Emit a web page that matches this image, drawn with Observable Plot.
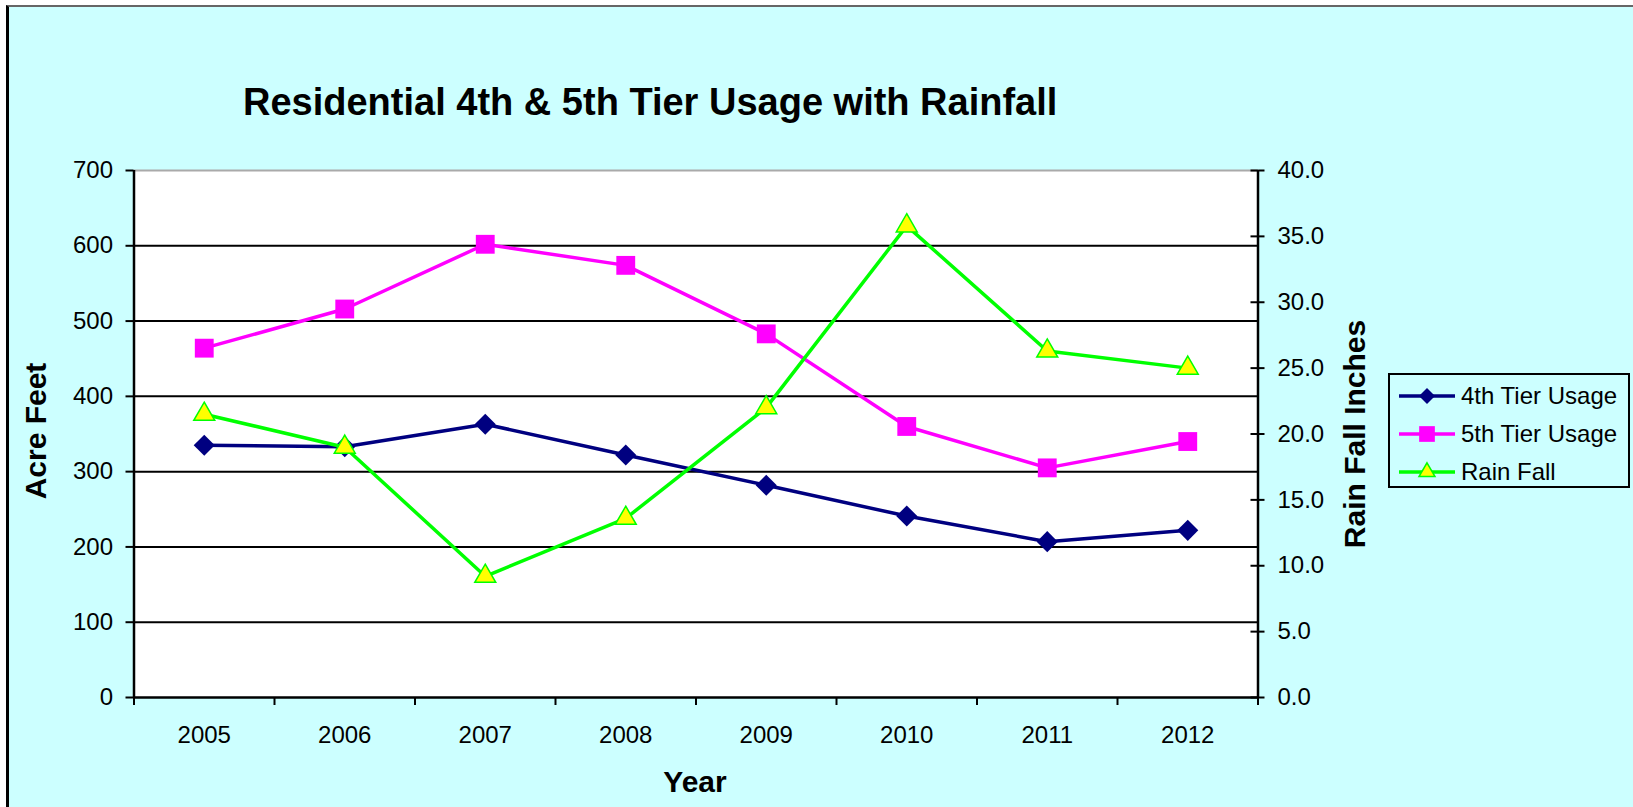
<!DOCTYPE html>
<html>
<head>
<meta charset="utf-8">
<script src="https://cdn.jsdelivr.net/npm/d3@7"></script>
<script src="https://cdn.jsdelivr.net/npm/@observablehq/plot@0.6"></script>
<style>
  html, body { margin: 0; padding: 0; background: #fff; overflow: hidden; width: 1633px; height: 807px; }
  body { position: relative; font-family: "Liberation Sans", Arial, sans-serif; }
  #panel { position: absolute; left: 6px; top: 5px; width: 1700px; height: 900px; background: #CCFFFF;
           border-left: 3px solid #000; border-top: 2px solid #666; }
  #chart { position: absolute; left: 0; top: 0; }
  .title { position: absolute; left: 243px; top: 83px; font-weight: bold; font-size: 38px; line-height: 38px; white-space: nowrap; color: #000; }
  .axt { position: absolute; font-weight: bold; font-size: 30px; white-space: nowrap; color: #000; transform: translate(-50%, -50%); line-height: 1; }
  .axt.rot { transform: translate(-50%, -50%) rotate(-90deg); }
  #legend { position: absolute; left: 1388px; top: 373px; width: 242px; height: 115px; box-sizing: border-box;
            border: 2px solid #000; }
  .lrow { position: absolute; left: 9px; height: 24px; display: flex; align-items: center; white-space: nowrap; font-size: 24px; color: #000; }
  .lrow span { margin-left: 6px; line-height: 24px; }
</style>
</head>
<body>
<div id="panel"></div>
<div class="title">Residential 4th &amp; 5th Tier Usage with Rainfall</div>
<div id="chart"></div>
<div class="axt rot" style="left:36px; top:431px;">Acre Feet</div>
<div class="axt rot" style="left:1355px; top:434px;">Rain Fall Inches</div>
<div class="axt" style="left:695px; top:782px;">Year</div>
<div id="legend"></div>
<script>
// ---- data ----
const years = [2005, 2006, 2007, 2008, 2009, 2010, 2011, 2012];
const tier4 = [335, 333, 363, 322, 282, 241, 207, 222];
const tier5 = [464, 516, 602, 574, 483, 360, 305, 340];
const rainFall = [21.5, 19.0, 9.2, 13.6, 22.0, 35.8, 26.3, 25.0];
const leftTicks = [0, 100, 200, 300, 400, 500, 600, 700];
const rightTicks = [0, 5, 10, 15, 20, 25, 30, 35, 40];
const seriesNames = ["4th Tier Usage", "5th Tier Usage", "Rain Fall"];

const leftMax = d3.max(leftTicks);
const rightMax = d3.max(rightTicks);
const RATIO = leftMax / rightMax; // maps rainfall onto the left scale

const rows = years.map((y, i) => ({ year: y, tier4: tier4[i], tier5: tier5[i], rain: rainFall[i] }));
const xDomain = [d3.min(years) - 0.5, d3.max(years) + 0.5];
const boundaries = d3.range(xDomain[0], xDomain[1] + 0.01, 1);

const NAVY = "#000080", MAGENTA = "#FF00FF", GREEN = "#00FF00", YELLOW = "#FFFF00";

const chart = Plot.plot({
  width: 1633,
  height: 807,
  marginLeft: 133.5,
  marginRight: 375.5,
  marginTop: 170,
  marginBottom: 110,
  x: { type: "linear", domain: xDomain },
  y: { domain: [0, leftMax] },
  style: { background: "transparent", fontFamily: "'Liberation Sans', Arial, sans-serif", fontSize: "24px", color: "#000", overflow: "visible" },
  marks: [
    Plot.frame({ fill: "white", stroke: null }),
    Plot.ruleY(leftTicks.filter(v => v > 0 && v < leftMax), { stroke: "#000", strokeWidth: 2 }),
    Plot.ruleY([leftMax], { stroke: "#aaa", strokeWidth: 2 }),
    Plot.ruleY([0], { stroke: "#000", strokeWidth: 2.5 }),
    Plot.ruleX(xDomain, { stroke: "#000", strokeWidth: 2.5 }),
    // 4th tier
    Plot.line(rows, { x: "year", y: "tier4", stroke: NAVY, strokeWidth: 3.5 }),
    Plot.dot(rows, { x: "year", y: "tier4", symbol: "diamond2", r: 9.5, fill: NAVY, stroke: null }),
    // 5th tier
    Plot.line(rows, { x: "year", y: "tier5", stroke: MAGENTA, strokeWidth: 3.5 }),
    Plot.dot(rows, { x: "year", y: "tier5", symbol: "square2", r: 12, fill: MAGENTA, stroke: null }),
    // rainfall
    Plot.line(rows, { x: "year", y: d => d.rain * RATIO, stroke: GREEN, strokeWidth: 3.5 }),
    Plot.dot(rows, { x: "year", y: d => d.rain * RATIO, symbol: "triangle2", r: 10, fill: YELLOW, stroke: GREEN, strokeWidth: 1.5 }),
    // axes
    Plot.axisY({ anchor: "left", ticks: leftTicks, tickSize: 8, tickPadding: 13, strokeWidth: 2, label: null, tickFormat: d => String(d) }),
    Plot.axisY({ anchor: "right", ticks: rightTicks.map(v => v * RATIO), tickSize: 6, tickPadding: 13.5, strokeWidth: 2, label: null,
                 tickFormat: v => (v / RATIO).toFixed(1) }),
    Plot.axisY({ anchor: "right", ticks: rightTicks.map(v => v * RATIO), tickSize: 8, dx: -8, strokeWidth: 2, label: null, tickFormat: () => "" }),
    Plot.axisX({ anchor: "bottom", ticks: boundaries, tickSize: 8, strokeWidth: 2, label: null, tickFormat: () => "" }),
    Plot.axisX({ anchor: "bottom", ticks: years, tickSize: 0, tickPadding: 28, label: null, tickFormat: d => String(d) })
  ]
});
document.getElementById("chart").appendChild(chart);

// ---- legend ----
const legend = document.getElementById("legend");
const legendSpec = [
  { name: seriesNames[0], color: NAVY, sym: d3.symbolDiamond2, size: 163, fill: NAVY, stroke: "none" },
  { name: seriesNames[1], color: MAGENTA, sym: d3.symbolSquare2, size: 314, fill: MAGENTA, stroke: "none" },
  { name: seriesNames[2], color: GREEN, sym: d3.symbolTriangle2, size: 183, fill: YELLOW, stroke: GREEN }
];
const rowCenters = [21, 58.5, 97];
legendSpec.forEach((s, i) => {
  const row = document.createElement("div");
  row.className = "lrow";
  row.style.top = (rowCenters[i] - 12) + "px";
  const path = d3.symbol(s.sym, s.size)();
  row.innerHTML = `<svg width="56" height="24" style="overflow:visible">
    <line x1="0" x2="56" y1="12" y2="12" stroke="${s.color}" stroke-width="3.5"/>
    <path transform="translate(28,12)" d="${path}" fill="${s.fill}" stroke="${s.stroke}" stroke-width="1.5"/>
  </svg><span>${s.name}</span>`;
  legend.appendChild(row);
});
</script>
</body>
</html>
